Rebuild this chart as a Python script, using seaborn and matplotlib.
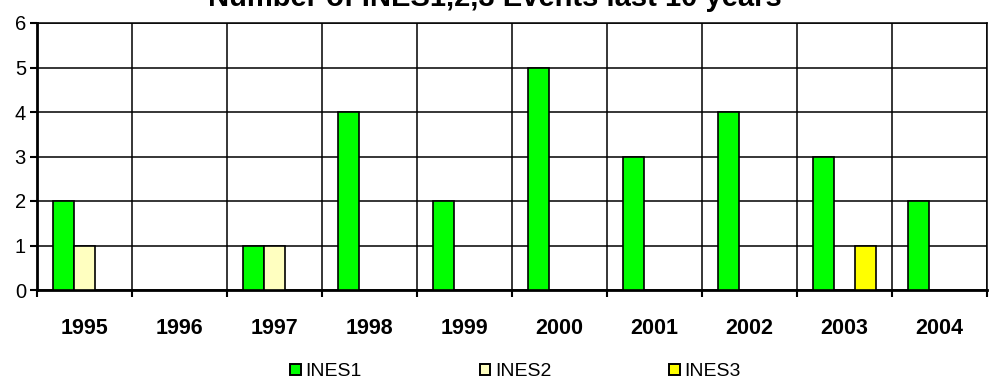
import numpy as np
import pandas as pd
import matplotlib
matplotlib.use("Agg")
import matplotlib.pyplot as plt
import seaborn as sns
from matplotlib.patches import Patch

years = ["1995", "1996", "1997", "1998", "1999", "2000", "2001", "2002", "2003", "2004"]
ines1 = [2, 0, 1, 4, 2, 5, 3, 4, 3, 2]
ines2 = [1, 0, 1, 0, 0, 0, 0, 0, 0, 0]
ines3 = [0, 0, 0, 0, 0, 0, 0, 0, 1, 0]
series_names = ["INES1", "INES2", "INES3"]
colors = ["#00FF00", "#FFFFC0", "#FFFF00"]

df = pd.DataFrame({
    "year": years * 3,
    "count": ines1 + ines2 + ines3,
    "series": sum([[s] * len(years) for s in series_names], []),
})

sns.set_theme(style="white")
plt.rcParams["font.family"] = ["Liberation Sans", "DejaVu Sans"]
plt.rcParams["text.color"] = "black"
plt.rcParams["xtick.color"] = "black"
plt.rcParams["ytick.color"] = "black"

fig = plt.figure(figsize=(9.89, 3.82), dpi=100)
ax = fig.add_axes([37 / 989, 1 - 290 / 382, 950 / 989, 267 / 382])

sns.barplot(data=df, x="year", y="count", hue="series", order=years,
            hue_order=series_names, palette=colors, saturation=1, width=0.66,
            gap=0, edgecolor="black", linewidth=1.2, legend=False, ax=ax, zorder=3)

# zero-height bars are not drawn
for p in ax.patches:
    if p.get_height() == 0:
        p.set_visible(False)

ax.set_xlim(-0.5, len(years) - 0.5)
ax.set_ylim(0, 6)
ax.set_yticks(range(0, 7))
ax.set_xticks(np.arange(-0.5, len(years), 1.0), minor=True)
ax.tick_params(axis="x", which="major", length=0, pad=28, labelsize=15.5)
ax.tick_params(axis="x", which="minor", length=5, width=1.5, color="black",
               direction="out", bottom=True)
ax.tick_params(axis="y", length=5, width=1.5, color="black", direction="out",
               left=True, labelsize=14.5, pad=3)
for lbl in ax.get_xticklabels():
    lbl.set_fontweight("bold")
    lbl.set_va("center")

ax.grid(False)
ax.yaxis.grid(True, color="black", linewidth=1.1, zorder=0)
ax.xaxis.grid(True, which="minor", color="black", linewidth=1.1, zorder=0)
ax.set_axisbelow(True)
ax.set_xlabel("")
ax.set_ylabel("")
for side, sp in ax.spines.items():
    sp.set_visible(True)
    sp.set_color("black")
    sp.set_linewidth(1.1)
ax.spines["bottom"].set_linewidth(2.0)
ax.spines["left"].set_linewidth(2.0)

fig.text(0.5, 1 - 6.5 / 382, "Number of INES1,2,3 Events last 10 years",
         ha="center", va="baseline", fontsize=21, fontweight="bold")

handles = [Patch(facecolor=c, edgecolor="black", linewidth=1.4, label=n)
           for c, n in zip(colors, series_names)]
fig.legend(handles=handles, loc="center left",
           bbox_to_anchor=(290 / 989, 1 - 372 / 382),
           ncol=3, frameon=False, fontsize=14, handlelength=0.55,
           handleheight=0.55, handletextpad=0.25, columnspacing=6.05,
           borderaxespad=0, borderpad=0)

fig.savefig("out.png", dpi=100)
